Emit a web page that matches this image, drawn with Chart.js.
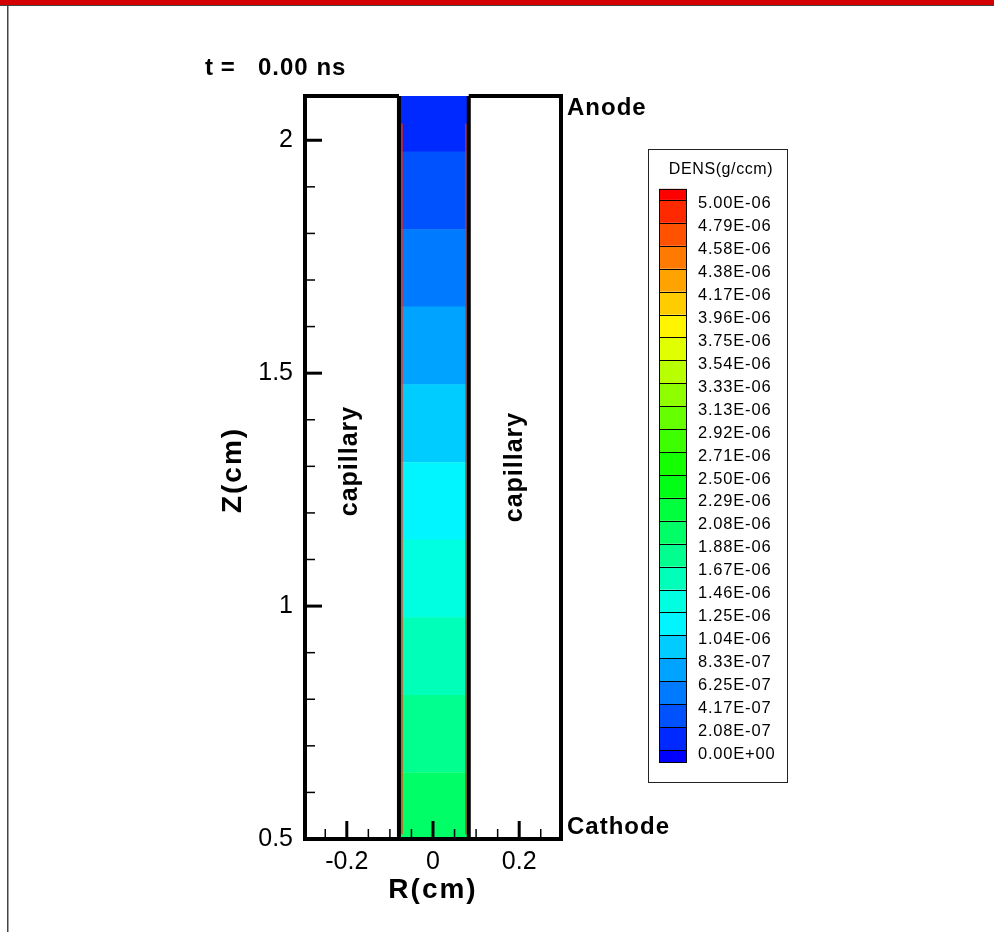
<!DOCTYPE html>
<html>
<head>
<meta charset="utf-8">
<title>DENS t = 0.00 ns</title>
<script src="https://cdn.jsdelivr.net/npm/chart.js@4.4.1/dist/chart.umd.min.js"></script>
<style>
  html, body { margin: 0; padding: 0; background: #fff; }
  #wrap { width: 994px; height: 932px; position: relative; }
</style>
</head>
<body>
<div id="wrap"><canvas id="densChart"></canvas></div>
<script>
// axis ranges and ticks (cm)
const rRange = [-0.297, 0.297];
const zRange = [0.5, 2.095];
const rTicks = [-0.2, 0, 0.2];
const rTickLabels = ['-0.2', '0', '0.2'];
const rMinor = [-0.25, -0.15, -0.1, -0.05, 0.05, 0.1, 0.15, 0.25];
const zTicks = [0.5, 1, 1.5, 2];
const zTickLabels = ['0.5', '1', '1.5', '2'];
const zMinor = [0.6, 0.7, 0.8, 0.9, 1.1, 1.2, 1.3, 1.4, 1.6, 1.7, 1.8, 1.9];

// channel walls and inner red contour line (R in cm)
const wallR = [-0.079, 0.083];
const edgeR = [-0.072, 0.0765];
const edgeZ = [0.51, 2.036];

// density bands in the channel, bottom edge -> top edge (Z in cm)
const bandEdges = [0.5, 0.643, 0.809, 0.976, 1.143, 1.309, 1.476, 1.643, 1.809, 1.976, 2.095];
// density of each band (g/ccm), bottom -> top
const bandDens = [1.98e-6, 1.77e-6, 1.56e-6, 1.35e-6, 1.15e-6, 9.4e-7, 7.3e-7, 5.2e-7, 3.1e-7, 1.0e-7];

// contour levels of the colour legend, low -> high
const levels = [0, 2.08e-7, 4.17e-7, 6.25e-7, 8.33e-7, 1.04e-6, 1.25e-6, 1.46e-6, 1.67e-6, 1.88e-6,
  2.08e-6, 2.29e-6, 2.50e-6, 2.71e-6, 2.92e-6, 3.13e-6, 3.33e-6, 3.54e-6, 3.75e-6, 3.96e-6,
  4.17e-6, 4.38e-6, 4.58e-6, 4.79e-6, 5.00e-6];
const levelLabels = ['0.00E+00', '2.08E-07', '4.17E-07', '6.25E-07', '8.33E-07', '1.04E-06', '1.25E-06',
  '1.46E-06', '1.67E-06', '1.88E-06', '2.08E-06', '2.29E-06', '2.50E-06', '2.71E-06', '2.92E-06',
  '3.13E-06', '3.33E-06', '3.54E-06', '3.75E-06', '3.96E-06', '4.17E-06', '4.38E-06', '4.58E-06',
  '4.79E-06', '5.00E-06'];
// flood colours, below lowest level -> above highest level
const floodColors = ['#0000ff', '#0029ff', '#0052ff', '#007aff', '#00a3ff', '#00ccff', '#00f5ff',
  '#00ffe0', '#00ffb8', '#00ff8f', '#00ff66', '#00ff3d', '#00ff14',
  '#14ff00', '#3dff00', '#66ff00', '#8fff00', '#b8ff00', '#e0ff00',
  '#fff500', '#ffcc00', '#ffa300', '#ff7a00', '#ff5200', '#ff2900', '#ff0000'];

const FONT = '"Liberation Sans", Arial, Helvetica, sans-serif';

function floodColor(v) {
  let k = 0;
  levels.forEach(l => { if (l <= v) k++; });
  return floodColors[k];
}

const datasets = [];
// walls on top
wallR.forEach(r => datasets.push({
  data: [{x: r, y: zRange[0]}, {x: r, y: zRange[1]}],
  showLine: true, borderColor: '#000', borderWidth: 4, pointRadius: 0, order: 0
}));
edgeR.forEach(r => datasets.push({
  data: [{x: r, y: edgeZ[0]}, {x: r, y: edgeZ[1]}],
  showLine: true, borderColor: '#ff2a00', borderWidth: 1.3, pointRadius: 0, order: 1
}));
bandDens.forEach((d, i) => {
  const c = floodColor(d);
  datasets.push({
    data: [{x: wallR[0], y: bandEdges[i + 1]}, {x: wallR[1], y: bandEdges[i + 1]}],
    showLine: true, fill: {value: bandEdges[i] - 0.001},
    backgroundColor: c, borderColor: 'rgba(0,0,0,0)', borderWidth: 1, pointRadius: 0, order: 5
  });
});

function txt(ctx, s, x, y, font, align, rot, spacing) {
  ctx.save();
  ctx.translate(x, y);
  if (rot) ctx.rotate(rot);
  ctx.font = font;
  ctx.fillStyle = '#000';
  ctx.textAlign = align || 'left';
  ctx.textBaseline = 'middle';
  ctx.letterSpacing = spacing || '0px';
  ctx.fillText(s, 0, 0);
  ctx.restore();
}

const decor = {
  id: 'decor',
  beforeDraw(chart) {
    const ctx = chart.ctx;
    ctx.save();
    ctx.fillStyle = '#fff';
    ctx.fillRect(0, 0, chart.width, chart.height);
    // window chrome
    ctx.fillStyle = '#d40000';
    ctx.fillRect(0, 0, chart.width, 5);
    ctx.fillStyle = '#444';
    ctx.fillRect(0, 5, chart.width, 1);
    ctx.fillRect(7, 5, 1.5, chart.height - 5);
    ctx.restore();
  },
  afterDatasetsDraw(chart) {
    const ctx = chart.ctx;
    const xs = chart.scales.x, ys = chart.scales.y;
    const a = chart.chartArea;
    ctx.save();
    // frame
    ctx.strokeStyle = '#000';
    ctx.lineWidth = 4;
    ctx.lineJoin = 'miter';
    ctx.beginPath();
    ctx.moveTo(xs.getPixelForValue(wallR[0]), a.top);
    ctx.lineTo(a.left, a.top);
    ctx.lineTo(a.left, a.bottom);
    ctx.lineTo(a.right, a.bottom);
    ctx.lineTo(a.right, a.top);
    ctx.lineTo(xs.getPixelForValue(wallR[1]), a.top);
    ctx.stroke();
    // inward ticks
    const tick = (x0, y0, x1, y1, w) => {
      ctx.lineWidth = w;
      ctx.beginPath(); ctx.moveTo(x0, y0); ctx.lineTo(x1, y1); ctx.stroke();
    };
    zTicks.forEach(v => { const y = ys.getPixelForValue(v); tick(a.left, y, a.left + 17, y, 3); });
    zMinor.forEach(v => { const y = ys.getPixelForValue(v); tick(a.left, y, a.left + 10, y, 1.5); });
    rTicks.forEach(v => { const x = xs.getPixelForValue(v); tick(x, a.bottom, x, a.bottom - 18, 3); });
    rMinor.forEach(v => { const x = xs.getPixelForValue(v); tick(x, a.bottom, x, a.bottom - 10, 1.5); });

    // labels
    txt(ctx, 't =', 205, 68, 'bold 24px ' + FONT, 'left', 0, '0.5px');
    txt(ctx, '0.00 ns', 258, 68, 'bold 24px ' + FONT, 'left', 0, '1px');
    txt(ctx, 'Anode', 567, 108, 'bold 24px ' + FONT, 'left', 0, '1px');
    txt(ctx, 'Cathode', 567, 827, 'bold 24px ' + FONT, 'left', 0, '1px');
    txt(ctx, 'capillary', 350, 461, 'bold 25px ' + FONT, 'center', -Math.PI / 2, '1px');
    txt(ctx, 'capillary', 515, 467, 'bold 25px ' + FONT, 'center', -Math.PI / 2, '1px');
    txt(ctx, 'Z(cm)', 233, 470, 'bold 28px ' + FONT, 'center', -Math.PI / 2, '2px');
    txt(ctx, 'R(cm)', xs.getPixelForValue(0), 890, 'bold 28px ' + FONT, 'center', 0, '2px');

    // colour legend
    const lx = 648.5, ly = 149.5, lw = 139, lh = 633;
    ctx.lineWidth = 1;
    ctx.strokeStyle = '#222';
    ctx.strokeRect(lx, ly, lw, lh);
    txt(ctx, 'DENS(g/ccm)', 721, 170, '16px ' + FONT, 'center', 0, '0.6px');
    const sx = 659, sw = 27, y0 = 750, step = 22.92;
    const lineY = k => y0 - k * step;
    // swatches
    floodColors.forEach((c, k) => {
      let top, bot;
      if (k === 0) { top = lineY(0); bot = lineY(0) + 12; }
      else if (k === floodColors.length - 1) { top = lineY(levels.length - 1) - 11; bot = lineY(levels.length - 1); }
      else { top = lineY(k); bot = lineY(k - 1); }
      ctx.fillStyle = c;
      ctx.fillRect(sx, top, sw, bot - top);
    });
    ctx.strokeStyle = '#000';
    ctx.lineWidth = 1;
    ctx.strokeRect(sx + 0.5, lineY(levels.length - 1) - 11 + 0.5, sw, (lineY(0) + 12) - (lineY(levels.length - 1) - 11));
    levels.forEach((l, k) => {
      const y = Math.round(lineY(k)) + 0.5;
      ctx.beginPath(); ctx.moveTo(sx, y); ctx.lineTo(sx + sw + 1, y); ctx.stroke();
      txt(ctx, levelLabels[k], 698, lineY(k) + 4, '16.5px ' + FONT, 'left', 0, '0.8px');
    });
    ctx.restore();
  }
};

new Chart(document.getElementById('densChart'), {
  type: 'scatter',
  data: { datasets: datasets },
  options: {
    responsive: true,
    maintainAspectRatio: false,
    animation: false,
    devicePixelRatio: 1,
    layout: { padding: { left: 0, top: 96, right: 433, bottom: 0 } },
    plugins: { legend: { display: false }, tooltip: { enabled: false } },
    scales: {
      x: {
        type: 'linear', position: 'bottom', min: rRange[0], max: rRange[1],
        grid: { display: false, drawTicks: false }, border: { display: false },
        ticks: {
          color: '#000', font: { family: FONT, size: 25 }, padding: 8,
          autoSkip: false, maxRotation: 0,
          callback: v => rTickLabels[rTicks.indexOf(v)]
        },
        afterBuildTicks: s => { s.ticks = rTicks.map(v => ({ value: v })); },
        afterFit: s => { s.height = 932 - 839; }
      },
      y: {
        type: 'linear', min: zRange[0], max: zRange[1],
        grid: { display: false, drawTicks: false }, border: { display: false },
        ticks: {
          color: '#000', font: { family: FONT, size: 25 }, padding: 12,
          autoSkip: false,
          callback: v => zTickLabels[zTicks.indexOf(v)]
        },
        afterBuildTicks: s => { s.ticks = zTicks.map(v => ({ value: v })); },
        afterFit: s => { s.width = 305; }
      }
    }
  },
  plugins: [decor]
});
</script>
</body>
</html>
